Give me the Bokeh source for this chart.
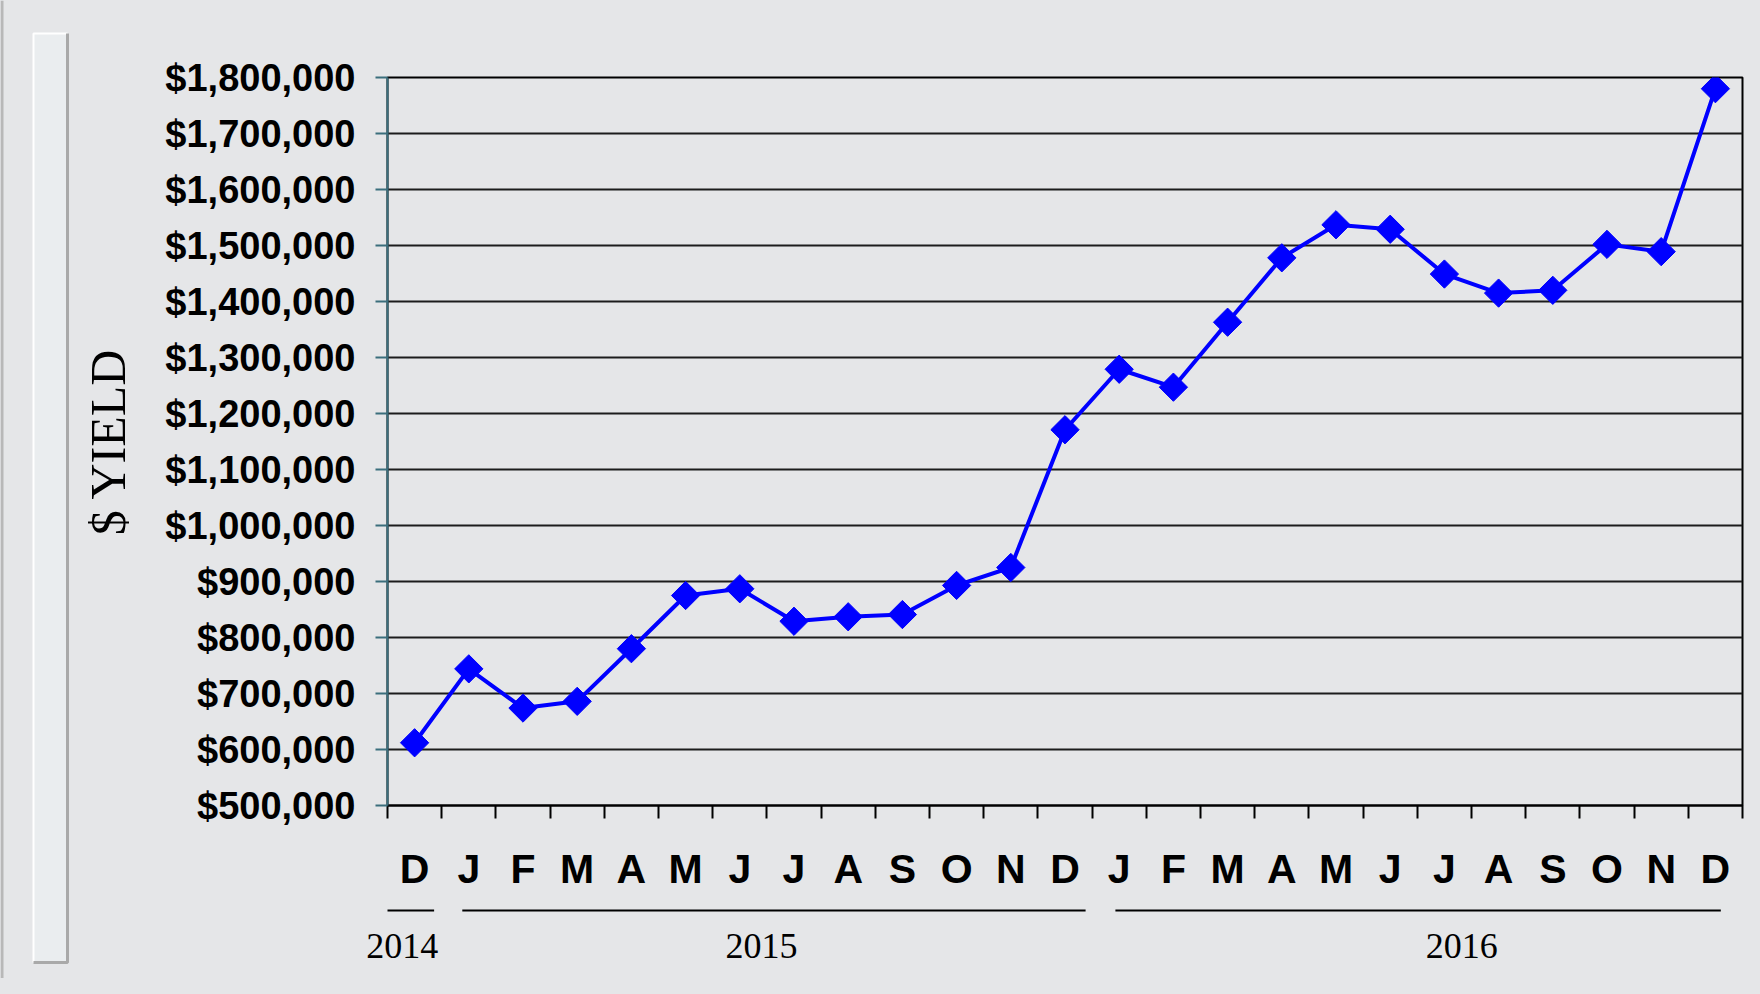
import numpy as np
from bokeh.plotting import figure
from bokeh.models import Range1d, FixedTicker, NumeralTickFormatter, ColumnDataSource
from bokeh.layouts import row, column
from bokeh.embed import file_html
from bokeh.resources import INLINE

# ---------------- data ----------------
months = ["D", "J", "F", "M", "A", "M", "J", "J", "A", "S", "O", "N", "D",
          "J", "F", "M", "A", "M", "J", "J", "A", "S", "O", "N", "D"]
month_year = ["2014"] + ["2015"] * 12 + ["2016"] * 12
yield_usd = [612000, 744000, 674000, 686000, 780000, 875000, 887000, 829000,
             837000, 841000, 893000, 925000, 1171000, 1279000, 1247000,
             1363000, 1478000, 1537000, 1529000, 1449000, 1415000, 1420000,
             1502000, 1489000, 1780000]
years = ["2014", "2015", "2016"]
y_ticks = list(range(500000, 1800001, 100000))

# ---------------- style / layout ----------------
BG = "#e5e6e8"
BLUE = "#0000ff"
AXIS_TEAL = "#3b6e7c"
W, H = 1744, 978
BAR_W = 70
MAIN_H = 905
TOP = 77
FRAME_H = 728
LEFT = 317
RIGHT = 2
# bracket padding (left, right) in category units, label shift from group centre
BRACKET_PAD = [(-0.07, 0.14), (0.38, 0.12), (0.43, 0.40)]
YEAR_SHIFT = [-0.23, -0.1, 0.82]

n = len(months)
xs = [i + 0.5 for i in range(n)]

# ---------------- main chart ----------------
p = figure(width=W - BAR_W, height=MAIN_H,
           x_range=Range1d(0, n), y_range=Range1d(y_ticks[0], y_ticks[-1]),
           output_backend="svg", toolbar_location=None,
           min_border_left=LEFT, min_border_right=RIGHT,
           min_border_top=TOP, min_border_bottom=MAIN_H - TOP - FRAME_H,
           background_fill_color=BG, border_fill_color=BG,
           outline_line_color="black", outline_line_width=2)

p.yaxis.ticker = FixedTicker(ticks=y_ticks)
p.yaxis.formatter = NumeralTickFormatter(format="$0,0")
p.yaxis.major_label_text_font = "Liberation Sans"
p.yaxis.major_label_text_font_size = "38px"
p.yaxis.major_label_text_font_style = "bold"
p.yaxis.major_label_text_color = "black"
p.yaxis.axis_line_color = AXIS_TEAL
p.yaxis.axis_line_width = 2
p.yaxis.major_tick_line_color = AXIS_TEAL
p.yaxis.major_tick_line_width = 2
p.yaxis.major_tick_out = 12
p.yaxis.major_tick_in = 0
p.yaxis.minor_tick_line_color = None
p.yaxis.major_label_standoff = 20
p.yaxis.axis_label = "$ YIELD"
p.yaxis.axis_label_text_font = "Liberation Serif"
p.yaxis.axis_label_text_font_size = "50px"
p.yaxis.axis_label_text_font_style = "normal"
p.yaxis.axis_label_text_color = "black"
p.yaxis.axis_label_standoff = 26

p.ygrid.ticker = FixedTicker(ticks=y_ticks)
p.ygrid.grid_line_color = "#1c1c1c"
p.ygrid.grid_line_width = 2
p.xgrid.visible = False

p.xaxis.ticker = FixedTicker(ticks=xs, minor_ticks=list(range(n + 1)))
p.xaxis.major_label_overrides = {x: m for x, m in zip(xs, months)}
p.xaxis.major_tick_line_color = None
p.xaxis.major_tick_out = 0
p.xaxis.major_tick_in = 0
p.xaxis.minor_tick_line_color = "black"
p.xaxis.minor_tick_line_width = 2
p.xaxis.minor_tick_out = 13
p.xaxis.minor_tick_in = 0
p.xaxis.axis_line_color = "black"
p.xaxis.axis_line_width = 2
p.xaxis.major_label_text_font = "Liberation Sans"
p.xaxis.major_label_text_font_size = "41px"
p.xaxis.major_label_text_font_style = "bold"
p.xaxis.major_label_text_color = "black"
p.xaxis.major_label_standoff = 27

src = ColumnDataSource(dict(x=xs, y=yield_usd))
p.line("x", "y", source=src, line_color=BLUE, line_width=4)
p.scatter("x", "y", source=src, marker="square", size=20, angle=np.pi / 4,
          fill_color=BLUE, line_color=BLUE)

# ---------------- year strip (brackets + year axis) ----------------
YH = H - MAIN_H
YF_FRAME = 10
yf = figure(width=W - BAR_W, height=YH,
            x_range=p.x_range, y_range=Range1d(0, YF_FRAME),
            output_backend="svg", toolbar_location=None,
            min_border_left=LEFT, min_border_right=RIGHT,
            min_border_top=0, min_border_bottom=YH - YF_FRAME,
            y_axis_location=None,
            background_fill_color=BG, border_fill_color=BG,
            outline_line_color=None)
yf.grid.visible = False

x0s, x1s, lx = [], [], []
for k, yr in enumerate(years):
    idx = [i for i, y in enumerate(month_year) if y == yr]
    start, end = idx[0], idx[-1] + 1
    x0s.append(start + BRACKET_PAD[k][0])
    x1s.append(end - BRACKET_PAD[k][1])
    lx.append((start + end) / 2 + YEAR_SHIFT[k])

yf.segment(x0=x0s, y0=[YF_FRAME / 2] * 3, x1=x1s, y1=[YF_FRAME / 2] * 3,
           line_color="black", line_width=2)

yf.xaxis.ticker = FixedTicker(ticks=lx)
yf.xaxis.major_label_overrides = {x: yr for x, yr in zip(lx, years)}
yf.xaxis.axis_line_color = None
yf.xaxis.major_tick_line_color = None
yf.xaxis.minor_tick_line_color = None
yf.xaxis.major_tick_out = 0
yf.xaxis.major_tick_in = 0
yf.xaxis.major_label_standoff = 18
yf.xaxis.major_label_text_font = "Liberation Serif"
yf.xaxis.major_label_text_font_size = "36px"
yf.xaxis.major_label_text_font_style = "normal"
yf.xaxis.major_label_text_color = "black"

# ---------------- decorative side bar ----------------
bf = figure(width=BAR_W, height=H, x_range=Range1d(0, BAR_W), y_range=Range1d(0, H),
            output_backend="svg", toolbar_location=None, min_border=0,
            x_axis_location=None, y_axis_location=None,
            background_fill_color=BG, border_fill_color=BG, outline_line_color=None)
bf.grid.visible = False
bx0, bx1, by0, by1 = 33, 67, H - 962, H - 33
bf.quad(left=[bx0], right=[bx1], bottom=[by0], top=[by1],
        fill_color="#eaedef", line_color=None)
bf.multi_line(xs=[[bx0, bx0, bx1]], ys=[[by0, by1, by1]], line_color="white", line_width=2)
bf.multi_line(xs=[[bx0, bx1, bx1]], ys=[[by0, by0, by1]], line_color="#a9a9a9", line_width=3)
bf.multi_line(xs=[[1.5, 1.5]], ys=[[0, H]], line_color="#b8b8b8", line_width=3)

layout = row(bf, column(p, yf))
html = file_html(layout, INLINE)
html = html.replace("<head>", "<head><style>html,body{background:%s;}</style>" % BG, 1)
open("out.html", "w").write(html)
